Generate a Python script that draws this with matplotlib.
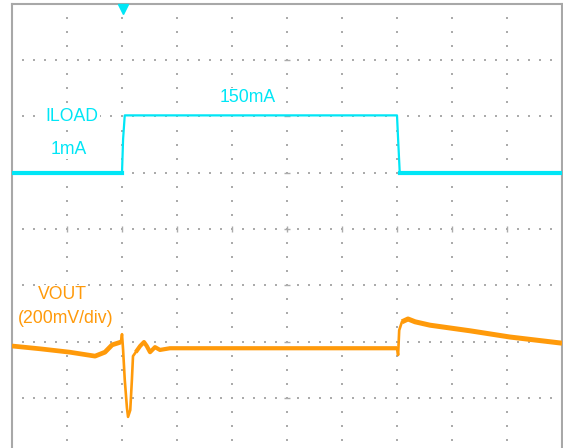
import numpy as np
import matplotlib.pyplot as plt

# scope screen: 10 x 8 divisions, values below are in divisions
iload_t = [0.0, 2.00, 2.02, 2.05, 7.00, 7.02, 7.05, 10.0]
iload_v = [5.0, 5.0, 5.6, 6.02, 6.02, 5.6, 5.0, 5.0]

vout_t = [0.0, 0.51, 1.05, 1.51, 1.69, 1.82, 1.98, 2.00, 2.02, 2.05, 2.09,
          2.11, 2.15, 2.18, 2.20, 2.25, 2.33, 2.40, 2.45, 2.51, 2.60, 2.69,
          2.87, 5.0, 7.00, 7.02, 7.04, 7.09, 7.20, 7.33, 7.60, 8.33, 9.05, 10.0]
vout_v = [1.92, 1.87, 1.81, 1.74, 1.81, 1.94, 1.99, 2.13, 1.85, 1.32, 0.82,
          0.66, 0.78, 1.32, 1.74, 1.81, 1.92, 1.99, 1.92, 1.81, 1.90, 1.85,
          1.88, 1.88, 1.88, 1.76, 2.20, 2.35, 2.40, 2.35, 2.29, 2.19, 2.08, 1.97]

labels_cyan = [("ILOAD", 1.09, 5.92), ("1mA", 1.025, 5.333), ("150mA", 4.29, 6.258)]
labels_orange = [("VOUT", 0.909, 2.756), ("(200mV/div)", 0.982, 2.329)]

CYAN = '#00E6F6'
ORANGE = '#FF9A0A'
GRID = '#ABABAB'

fig = plt.figure(figsize=(5.63, 4.48), dpi=100)
# top border ~4px, 8 divisions of 56.25px run past the bottom edge
ax = fig.add_axes([12 / 563, 1 - 454 / 448, 550 / 563, 450 / 448])
ax.set_xlim(0, 10)
ax.set_ylim(0, 8)
ax.set_xticks([])
ax.set_yticks([])
for s in ax.spines.values():
    s.set_color('#A8A8A8')
    s.set_linewidth(1.5)

# dotted graticule
for yy in range(1, 8):
    xs = np.arange(0.2, 10, 0.2)
    ax.scatter(xs, np.full_like(xs, yy), s=1.1, marker='s', color=GRID, lw=0, zorder=1)
for xx in range(1, 10):
    ys = np.arange(0.25, 8, 0.25)
    ax.scatter(np.full_like(ys, xx), ys, s=1.1, marker='s', color=GRID, lw=0, zorder=1)
# centre cross ticks
ax.plot(range(1, 10), [4] * 9, ls='none', marker='|', ms=5, color=GRID, mew=1, zorder=1)
ax.plot([5] * 7, range(1, 8), ls='none', marker='_', ms=5, color=GRID, mew=1, zorder=1)

# traces
ax.plot(iload_t, iload_v, color=CYAN, lw=1.6, zorder=3)
ax.plot(iload_t[:2], iload_v[:2], color=CYAN, lw=3.0, zorder=3)
ax.plot(iload_t[-2:], iload_v[-2:], color=CYAN, lw=3.0, zorder=3)

ax.plot(vout_t, vout_v, color=ORANGE, lw=1.9, zorder=3)
ax.plot(vout_t[:7], vout_v[:7], color=ORANGE, lw=3.4, zorder=3, solid_capstyle='butt')
ax.plot(vout_t[15:25], vout_v[15:25], color=ORANGE, lw=3.0, zorder=3, solid_capstyle='butt')
ax.plot(vout_t[27:], vout_v[27:], color=ORANGE, lw=3.6, zorder=3, solid_capstyle='butt')

# trigger marker
ax.plot([2.02], [7.91], marker='v', ms=7, color=CYAN, ls='none', clip_on=False, zorder=4)

box = dict(facecolor='white', edgecolor='none', pad=1.0)
for txt, x, y in labels_cyan:
    ax.text(x, y, txt, color=CYAN, fontsize=12.7, family='Liberation Sans',
            ha='center', va='baseline', zorder=5, bbox=box)
for txt, x, y in labels_orange:
    ax.text(x, y, txt, color=ORANGE, fontsize=12.7, family='Liberation Sans',
            ha='center', va='baseline', zorder=5, bbox=box)

fig.savefig('out.png', dpi=100)
